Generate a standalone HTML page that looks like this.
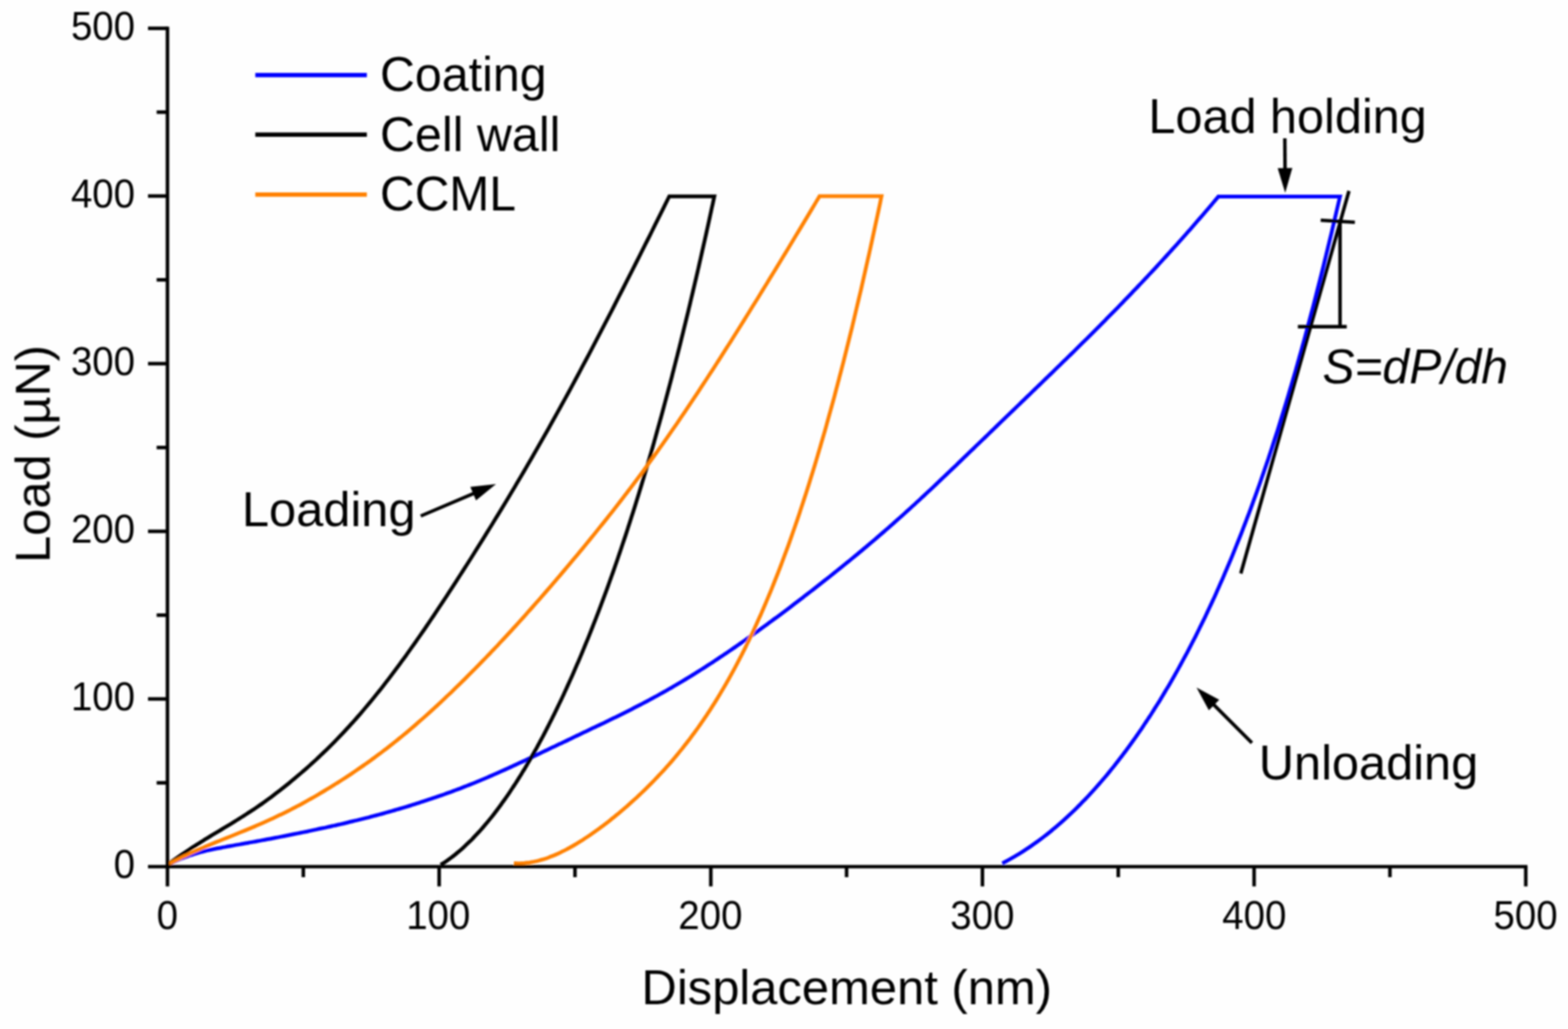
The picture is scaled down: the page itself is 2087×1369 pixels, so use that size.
<!DOCTYPE html>
<html lang="en"><head><meta charset="utf-8"><title>Load-displacement curves</title>
<style>
html,body{margin:0;padding:0;background:#fefefe;}
body{width:2087px;height:1369px;overflow:hidden;}
svg{display:block;}
text{font-family:"Liberation Sans",sans-serif;fill:#000;font-kerning:none;}
.tk{font-size:53.6px;}
.lb{font-size:65.5px;}
.ax{stroke:#000;stroke-width:4.7;fill:none;stroke-linecap:butt;}
.cv{fill:none;stroke-width:5.0;stroke-linejoin:miter;stroke-miterlimit:3;stroke-linecap:butt;}
.th{stroke:#000;stroke-width:4.6;fill:none;}
</style></head><body>
<svg width="2087" height="1369" viewBox="0 0 2087 1369">
<defs><filter id="soft" x="0" y="0" width="2087" height="1369" filterUnits="userSpaceOnUse"><feGaussianBlur stdDeviation="0.90"/></filter></defs>
<rect x="0" y="0" width="2087" height="1369" fill="#fefefe"/>
<g filter="url(#soft)">
<path class="cv" stroke="#0000ff" d="M222.9 1150.5C223.9 1150.0 226.9 1148.5 228.9 1147.6C230.9 1146.7 232.9 1145.9 234.9 1145.0C236.9 1144.1 238.9 1143.2 240.9 1142.4C242.9 1141.6 244.9 1141.0 246.9 1140.2C248.9 1139.5 250.9 1138.7 252.9 1138.0C254.9 1137.3 256.9 1136.8 258.9 1136.2C260.9 1135.5 262.9 1134.9 264.9 1134.3C266.9 1133.7 268.9 1133.3 270.9 1132.8C272.9 1132.3 274.9 1131.7 276.9 1131.3C278.9 1130.8 280.9 1130.4 282.9 1130.0C284.9 1129.6 286.9 1129.2 288.9 1128.8C290.9 1128.4 292.9 1128.0 294.9 1127.7C296.9 1127.3 298.9 1127.0 300.9 1126.6C302.9 1126.2 304.9 1125.9 306.9 1125.5C308.9 1125.2 310.9 1124.8 312.9 1124.4C314.9 1124.1 316.9 1123.7 318.9 1123.4C320.9 1123.0 322.9 1122.6 324.9 1122.3C326.9 1121.9 328.9 1121.6 330.9 1121.2C332.9 1120.8 334.9 1120.5 336.9 1120.1C338.9 1119.8 340.9 1119.4 342.9 1119.0C344.9 1118.7 346.9 1118.3 348.9 1117.9C350.9 1117.6 352.9 1117.2 354.9 1116.8C356.9 1116.4 358.9 1116.1 360.9 1115.7C362.9 1115.3 364.9 1114.9 366.9 1114.5C368.9 1114.2 370.9 1113.8 372.9 1113.4C374.9 1113.0 376.9 1112.6 378.9 1112.2C380.9 1111.8 382.9 1111.4 384.9 1111.0C386.9 1110.6 388.9 1110.2 390.9 1109.8C392.9 1109.4 394.9 1109.0 396.9 1108.6C398.9 1108.2 400.9 1107.8 402.9 1107.4C404.9 1107.0 406.9 1106.6 408.9 1106.2C410.9 1105.7 412.9 1105.3 414.9 1104.9C416.9 1104.5 418.9 1104.1 420.9 1103.6C422.9 1103.2 424.9 1102.8 426.9 1102.3C428.9 1101.9 430.9 1101.5 432.9 1101.1C434.9 1100.6 436.9 1100.2 438.9 1099.7C440.9 1099.3 442.9 1098.8 444.9 1098.4C446.9 1097.9 448.9 1097.5 450.9 1097.0C452.9 1096.6 454.9 1096.1 456.9 1095.7C458.9 1095.2 460.9 1094.7 462.9 1094.2C464.9 1093.8 466.9 1093.3 468.9 1092.8C470.9 1092.3 472.9 1091.8 474.9 1091.4C476.9 1090.9 478.9 1090.4 480.9 1089.9C482.9 1089.4 484.9 1088.9 486.9 1088.4C488.9 1087.9 490.9 1087.4 492.9 1086.8C494.9 1086.3 496.9 1085.8 498.9 1085.2C500.9 1084.7 502.9 1084.2 504.9 1083.7C506.9 1083.1 508.9 1082.5 510.9 1082.0C512.9 1081.4 514.9 1080.9 516.9 1080.3C518.9 1079.8 520.9 1079.2 522.9 1078.6C524.9 1078.0 526.9 1077.5 528.9 1076.9C530.9 1076.3 532.9 1075.7 534.9 1075.1C536.9 1074.5 538.9 1073.9 540.9 1073.3C542.9 1072.7 544.9 1072.1 546.9 1071.5C548.9 1070.8 550.9 1070.2 552.9 1069.6C554.9 1069.0 556.9 1068.3 558.9 1067.7C560.9 1067.0 562.9 1066.4 564.9 1065.7C566.9 1065.1 568.9 1064.4 570.9 1063.7C572.9 1063.1 574.9 1062.4 576.9 1061.7C578.9 1061.1 580.9 1060.4 582.9 1059.7C584.9 1059.0 586.9 1058.3 588.9 1057.6C590.9 1056.9 592.9 1056.1 594.9 1055.4C596.9 1054.7 598.9 1054.0 600.9 1053.3C602.9 1052.5 604.9 1051.8 606.9 1051.0C608.9 1050.3 610.9 1049.5 612.9 1048.8C614.9 1048.0 616.9 1047.2 618.9 1046.4C620.9 1045.6 622.9 1044.9 624.9 1044.1C626.9 1043.3 628.9 1042.5 630.9 1041.7C632.9 1040.8 634.9 1040.1 636.9 1039.2C638.9 1038.4 640.9 1037.5 642.9 1036.7C644.9 1035.9 646.9 1035.0 648.9 1034.2C650.9 1033.3 652.9 1032.4 654.9 1031.6C656.9 1030.7 658.9 1029.9 660.9 1029.0C662.9 1028.1 664.9 1027.2 666.9 1026.3C668.9 1025.4 670.9 1024.5 672.9 1023.6C674.9 1022.7 676.9 1021.8 678.9 1020.9C680.9 1020.0 682.9 1019.1 684.9 1018.1C686.9 1017.2 688.9 1016.3 690.9 1015.3C692.9 1014.4 694.9 1013.5 696.9 1012.6C698.9 1011.6 700.9 1010.7 702.9 1009.7C704.9 1008.8 706.9 1007.9 708.9 1006.9C710.9 1006.0 712.9 1005.0 714.9 1004.1C716.9 1003.1 718.9 1002.2 720.9 1001.2C722.9 1000.3 724.9 999.3 726.9 998.4C728.9 997.4 730.9 996.5 732.9 995.5C734.9 994.6 736.9 993.6 738.9 992.7C740.9 991.7 742.9 990.8 744.9 989.8C746.9 988.9 748.9 987.9 750.9 987.0C752.9 986.0 754.9 985.0 756.9 984.1C758.9 983.1 760.9 982.2 762.9 981.2C764.9 980.3 766.9 979.3 768.9 978.4C770.9 977.4 772.9 976.5 774.9 975.5C776.9 974.6 778.9 973.6 780.9 972.7C782.9 971.7 784.9 970.8 786.9 969.8C788.9 968.8 790.9 967.9 792.9 966.9C794.9 966.0 796.9 965.0 798.9 964.1C800.9 963.1 802.9 962.1 804.9 961.2C806.9 960.2 808.9 959.2 810.9 958.3C812.9 957.3 814.9 956.3 816.9 955.3C818.9 954.4 820.9 953.4 822.9 952.4C824.9 951.4 826.9 950.4 828.9 949.4C830.9 948.4 832.9 947.4 834.9 946.4C836.9 945.4 838.9 944.4 840.9 943.4C842.9 942.4 844.9 941.4 846.9 940.3C848.9 939.3 850.9 938.3 852.9 937.2C854.9 936.2 856.9 935.1 858.9 934.1C860.9 933.0 862.9 932.0 864.9 930.9C866.9 929.8 868.9 928.7 870.9 927.6C872.9 926.6 874.9 925.5 876.9 924.4C878.9 923.3 880.9 922.1 882.9 921.0C884.9 919.9 886.9 918.8 888.9 917.6C890.9 916.5 892.9 915.3 894.9 914.2C896.9 913.0 898.9 911.9 900.9 910.7C902.9 909.5 904.9 908.3 906.9 907.1C908.9 905.9 910.9 904.7 912.9 903.5C914.9 902.3 916.9 901.1 918.9 899.8C920.9 898.6 922.9 897.4 924.9 896.2C926.9 894.9 928.9 893.6 930.9 892.4C932.9 891.1 934.9 889.9 936.9 888.6C938.9 887.3 940.9 886.0 942.9 884.7C944.9 883.4 946.9 882.1 948.9 880.8C950.9 879.5 952.9 878.1 954.9 876.8C956.9 875.5 958.9 874.2 960.9 872.8C962.9 871.5 964.9 870.1 966.9 868.8C968.9 867.4 970.9 866.1 972.9 864.7C974.9 863.3 976.9 862.0 978.9 860.6C980.9 859.2 982.9 857.8 984.9 856.4C986.9 855.0 988.9 853.6 990.9 852.2C992.9 850.8 994.9 849.4 996.9 848.0C998.9 846.6 1000.9 845.1 1002.9 843.7C1004.9 842.3 1006.9 840.8 1008.9 839.4C1010.9 838.0 1012.9 836.5 1014.9 835.0C1016.9 833.6 1018.9 832.2 1020.9 830.7C1022.9 829.2 1024.9 827.7 1026.9 826.3C1028.9 824.8 1030.9 823.3 1032.9 821.9C1034.9 820.4 1036.9 818.9 1038.9 817.4C1040.9 815.9 1042.9 814.4 1044.9 812.9C1046.9 811.4 1048.9 809.9 1050.9 808.4C1052.9 806.9 1054.9 805.4 1056.9 803.8C1058.9 802.3 1060.9 800.8 1062.9 799.3C1064.9 797.7 1066.9 796.2 1068.9 794.7C1070.9 793.1 1072.9 791.6 1074.9 790.0C1076.9 788.5 1078.9 787.0 1080.9 785.4C1082.9 783.9 1084.9 782.3 1086.9 780.7C1088.9 779.2 1090.9 777.6 1092.9 776.0C1094.9 774.5 1096.9 772.9 1098.9 771.3C1100.9 769.7 1102.9 768.2 1104.9 766.6C1106.9 765.0 1108.9 763.4 1110.9 761.8C1112.9 760.2 1114.9 758.6 1116.9 757.0C1118.9 755.4 1120.9 753.8 1122.9 752.1C1124.9 750.5 1126.9 748.9 1128.9 747.3C1130.9 745.7 1132.9 744.0 1134.9 742.4C1136.9 740.7 1138.9 739.1 1140.9 737.5C1142.9 735.8 1144.9 734.1 1146.9 732.5C1148.9 730.8 1150.9 729.1 1152.9 727.5C1154.9 725.8 1156.9 724.1 1158.9 722.4C1160.9 720.7 1162.9 719.0 1164.9 717.3C1166.9 715.6 1168.9 713.9 1170.9 712.2C1172.9 710.4 1174.9 708.7 1176.9 707.0C1178.9 705.3 1180.9 703.5 1182.9 701.8C1184.9 700.0 1186.9 698.3 1188.9 696.5C1190.9 694.8 1192.9 693.0 1194.9 691.2C1196.9 689.4 1198.9 687.6 1200.9 685.8C1202.9 684.1 1204.9 682.2 1206.9 680.4C1208.9 678.6 1210.9 676.8 1212.9 675.0C1214.9 673.2 1216.9 671.3 1218.9 669.5C1220.9 667.7 1222.9 665.8 1224.9 664.0C1226.9 662.1 1228.9 660.3 1230.9 658.4C1232.9 656.6 1234.9 654.7 1236.9 652.8C1238.9 651.0 1240.9 649.1 1242.9 647.2C1244.9 645.3 1246.9 643.4 1248.9 641.5C1250.9 639.6 1252.9 637.7 1254.9 635.8C1256.9 633.9 1258.9 632.0 1260.9 630.1C1262.9 628.2 1264.9 626.3 1266.9 624.4C1268.9 622.5 1270.9 620.6 1272.9 618.7C1274.9 616.7 1276.9 614.8 1278.9 612.9C1280.9 611.0 1282.9 609.1 1284.9 607.1C1286.9 605.2 1288.9 603.3 1290.9 601.3C1292.9 599.4 1294.9 597.5 1296.9 595.6C1298.9 593.6 1300.9 591.7 1302.9 589.8C1304.9 587.8 1306.9 585.9 1308.9 584.0C1310.9 582.1 1312.9 580.1 1314.9 578.2C1316.9 576.3 1318.9 574.3 1320.9 572.4C1322.9 570.5 1324.9 568.5 1326.9 566.6C1328.9 564.7 1330.9 562.8 1332.9 560.8C1334.9 558.9 1336.9 557.0 1338.9 555.0C1340.9 553.1 1342.9 551.2 1344.9 549.2C1346.9 547.3 1348.9 545.4 1350.9 543.5C1352.9 541.5 1354.9 539.6 1356.9 537.7C1358.9 535.7 1360.9 533.8 1362.9 531.9C1364.9 529.9 1366.9 528.0 1368.9 526.1C1370.9 524.2 1372.9 522.2 1374.9 520.3C1376.9 518.4 1378.9 516.4 1380.9 514.5C1382.9 512.6 1384.9 510.6 1386.9 508.7C1388.9 506.8 1390.9 504.8 1392.9 502.9C1394.9 501.0 1396.9 499.0 1398.9 497.1C1400.9 495.2 1402.9 493.2 1404.9 491.3C1406.9 489.3 1408.9 487.4 1410.9 485.5C1412.9 483.5 1414.9 481.6 1416.9 479.6C1418.9 477.7 1420.9 475.7 1422.9 473.8C1424.9 471.8 1426.9 469.9 1428.9 467.9C1430.9 465.9 1432.9 464.0 1434.9 462.0C1436.9 460.0 1438.9 458.1 1440.9 456.1C1442.9 454.1 1444.9 452.1 1446.9 450.2C1448.9 448.2 1450.9 446.2 1452.9 444.2C1454.9 442.2 1456.9 440.2 1458.9 438.2C1460.9 436.2 1462.9 434.2 1464.9 432.2C1466.9 430.2 1468.9 428.2 1470.9 426.2C1472.9 424.1 1474.9 422.1 1476.9 420.1C1478.9 418.1 1480.9 416.0 1482.9 414.0C1484.9 411.9 1486.9 409.9 1488.9 407.9C1490.9 405.8 1492.9 403.7 1494.9 401.7C1496.9 399.6 1498.9 397.6 1500.9 395.5C1502.9 393.4 1504.9 391.3 1506.9 389.2C1508.9 387.1 1510.9 385.1 1512.9 383.0C1514.9 380.9 1516.9 378.7 1518.9 376.6C1520.9 374.5 1522.9 372.4 1524.9 370.3C1526.9 368.2 1528.9 366.0 1530.9 363.9C1532.9 361.7 1534.9 359.6 1536.9 357.5C1538.9 355.3 1540.9 353.1 1542.9 350.9C1544.9 348.8 1546.9 346.6 1548.9 344.4C1550.9 342.3 1552.9 340.0 1554.9 337.8C1556.9 335.6 1558.9 333.5 1560.9 331.2C1562.9 329.0 1564.9 326.8 1566.9 324.6C1568.9 322.3 1570.9 320.1 1572.9 317.9C1574.9 315.6 1576.9 313.3 1578.9 311.1C1580.9 308.8 1582.9 306.6 1584.9 304.3C1586.9 302.0 1588.9 299.7 1590.9 297.4C1592.9 295.1 1594.9 292.8 1596.9 290.5C1598.9 288.2 1600.9 285.9 1602.9 283.6C1604.9 281.2 1606.9 278.9 1608.9 276.6C1610.9 274.2 1612.9 271.9 1614.9 269.5C1616.9 267.2 1619.8 263.8 1620.9 262.4C1622.0 261.1 1621.6 261.7 1621.7 261.5L1783.5 261.5L1783.5 261.5C1783.2 262.6 1782.6 265.5 1782.0 268.0C1781.4 270.5 1780.7 273.7 1780.0 276.5C1779.3 279.4 1778.7 282.2 1778.0 285.1C1777.3 288.0 1776.7 290.8 1776.0 293.7C1775.3 296.5 1774.7 299.4 1774.0 302.2C1773.3 305.1 1772.7 308.0 1772.0 310.8C1771.3 313.6 1770.7 316.3 1770.0 319.0C1769.3 321.7 1768.7 324.5 1768.0 327.2C1767.3 329.9 1766.7 332.7 1766.0 335.4C1765.3 338.1 1764.7 340.9 1764.0 343.6C1763.3 346.4 1762.7 349.1 1762.0 351.8C1761.3 354.6 1760.7 357.3 1760.0 360.0C1759.3 362.7 1758.7 365.2 1758.0 367.9C1757.3 370.5 1756.7 373.1 1756.0 375.7C1755.3 378.3 1754.7 380.9 1754.0 383.5C1753.3 386.2 1752.7 388.8 1752.0 391.4C1751.3 394.0 1750.7 396.6 1750.0 399.2C1749.3 401.8 1748.7 404.5 1748.0 407.1C1747.3 409.6 1746.7 412.0 1746.0 414.5C1745.3 417.0 1744.7 419.5 1744.0 422.0C1743.3 424.5 1742.7 427.0 1742.0 429.5C1741.3 432.0 1740.7 434.5 1740.0 437.0C1739.3 439.5 1738.7 442.0 1738.0 444.4C1737.3 446.9 1736.7 449.5 1736.0 451.9C1735.3 454.4 1734.7 456.7 1734.0 459.0C1733.3 461.4 1732.7 463.8 1732.0 466.2C1731.3 468.5 1730.7 470.9 1730.0 473.3C1729.3 475.7 1728.7 478.0 1728.0 480.4C1727.3 482.8 1726.7 485.2 1726.0 487.5C1725.3 489.9 1724.7 492.3 1724.0 494.7C1723.3 497.0 1722.7 499.2 1722.0 501.4C1721.3 503.7 1720.7 506.0 1720.0 508.2C1719.3 510.5 1718.7 512.7 1718.0 515.0C1717.3 517.2 1716.7 519.5 1716.0 521.8C1715.3 524.0 1714.7 526.3 1714.0 528.5C1713.3 530.8 1712.8 532.6 1712.0 535.3C1711.2 538.1 1710.0 541.8 1709.0 545.0C1708.0 548.2 1707.0 551.4 1706.0 554.6C1705.0 557.9 1704.0 561.1 1703.0 564.3C1702.0 567.5 1701.0 570.8 1700.0 574.0C1699.0 577.1 1698.0 580.1 1697.0 583.1C1696.0 586.2 1695.0 589.3 1694.0 592.3C1693.0 595.4 1692.0 598.4 1691.0 601.5C1690.0 604.5 1689.0 607.7 1688.0 610.7C1687.0 613.6 1686.0 616.5 1685.0 619.4C1684.0 622.3 1683.0 625.2 1682.0 628.1C1681.0 631.0 1680.0 633.9 1679.0 636.8C1678.0 639.7 1677.0 642.7 1676.0 645.5C1675.0 648.3 1674.0 651.0 1673.0 653.8C1672.0 656.5 1671.0 659.3 1670.0 662.1C1669.0 664.8 1668.0 667.6 1667.0 670.3C1666.0 673.1 1665.0 675.9 1664.0 678.6C1663.0 681.3 1662.0 683.8 1661.0 686.5C1660.0 689.1 1659.0 691.7 1658.0 694.3C1657.0 696.9 1656.0 699.6 1655.0 702.2C1654.0 704.8 1653.0 707.5 1652.0 710.0C1651.0 712.6 1650.0 715.0 1649.0 717.5C1648.0 720.0 1647.0 722.5 1646.0 724.9C1645.0 727.4 1644.0 729.9 1643.0 732.4C1642.0 734.9 1641.0 737.4 1640.0 739.9C1639.0 742.3 1638.0 744.6 1637.0 747.0C1636.0 749.3 1635.0 751.7 1634.0 754.0C1633.0 756.4 1632.0 758.8 1631.0 761.1C1630.0 763.5 1629.0 765.9 1628.0 768.2C1627.0 770.5 1626.0 772.7 1625.0 774.9C1624.0 777.2 1623.0 779.4 1622.0 781.7C1621.0 783.9 1620.0 786.2 1619.0 788.4C1618.0 790.7 1617.0 793.0 1616.0 795.2C1615.0 797.3 1614.0 799.4 1613.0 801.6C1612.0 803.7 1611.0 805.8 1610.0 808.0C1609.0 810.1 1608.0 812.2 1607.0 814.4C1606.0 816.5 1605.2 818.4 1604.0 820.8C1602.8 823.2 1601.3 826.2 1600.0 828.9C1598.7 831.6 1597.3 834.3 1596.0 837.0C1594.7 839.7 1593.3 842.5 1592.0 845.1C1590.7 847.8 1589.3 850.3 1588.0 852.9C1586.7 855.4 1585.3 858.0 1584.0 860.6C1582.7 863.2 1581.3 865.8 1580.0 868.3C1578.7 870.8 1577.3 873.2 1576.0 875.7C1574.7 878.1 1573.3 880.6 1572.0 883.0C1570.7 885.5 1569.3 888.0 1568.0 890.4C1566.7 892.8 1565.3 895.1 1564.0 897.4C1562.7 899.7 1561.3 902.1 1560.0 904.4C1558.7 906.7 1557.3 909.1 1556.0 911.4C1554.7 913.7 1553.3 915.9 1552.0 918.1C1550.7 920.3 1549.3 922.5 1548.0 924.7C1546.7 927.0 1545.3 929.2 1544.0 931.4C1542.7 933.6 1541.3 935.6 1540.0 937.8C1538.7 939.9 1537.3 942.0 1536.0 944.1C1534.7 946.2 1533.3 948.4 1532.0 950.5C1530.7 952.5 1529.3 954.5 1528.0 956.5C1526.7 958.5 1525.3 960.5 1524.0 962.5C1522.7 964.6 1521.3 966.6 1520.0 968.6C1518.7 970.6 1517.3 972.4 1516.0 974.3C1514.7 976.3 1513.3 978.2 1512.0 980.1C1510.7 982.0 1509.5 983.7 1508.0 985.8C1506.5 987.9 1504.7 990.4 1503.0 992.7C1501.3 994.9 1499.7 997.2 1498.0 999.5C1496.3 1001.7 1494.7 1003.9 1493.0 1006.1C1491.3 1008.3 1489.7 1010.4 1488.0 1012.6C1486.3 1014.7 1484.7 1016.9 1483.0 1019.0C1481.3 1021.1 1479.7 1023.1 1478.0 1025.1C1476.3 1027.2 1474.7 1029.3 1473.0 1031.3C1471.3 1033.3 1469.7 1035.2 1468.0 1037.2C1466.3 1039.1 1464.7 1041.0 1463.0 1043.0C1461.3 1044.9 1459.7 1046.8 1458.0 1048.6C1456.3 1050.5 1454.7 1052.3 1453.0 1054.1C1451.3 1056.0 1449.7 1057.8 1448.0 1059.6C1446.3 1061.4 1444.7 1063.0 1443.0 1064.8C1441.3 1066.5 1439.7 1068.2 1438.0 1069.9C1436.3 1071.6 1434.8 1073.1 1433.0 1074.9C1431.2 1076.7 1429.0 1078.8 1427.0 1080.7C1425.0 1082.6 1423.0 1084.5 1421.0 1086.4C1419.0 1088.2 1417.0 1090.0 1415.0 1091.8C1413.0 1093.6 1411.0 1095.4 1409.0 1097.1C1407.0 1098.9 1405.0 1100.6 1403.0 1102.2C1401.0 1103.9 1399.0 1105.5 1397.0 1107.2C1395.0 1108.8 1393.0 1110.4 1391.0 1111.9C1389.0 1113.5 1387.0 1115.0 1385.0 1116.5C1383.0 1118.0 1381.0 1119.5 1379.0 1120.9C1377.0 1122.3 1375.0 1123.8 1373.0 1125.1C1371.0 1126.5 1369.0 1127.9 1367.0 1129.2C1365.0 1130.5 1363.0 1131.8 1361.0 1133.1C1359.0 1134.4 1357.2 1135.5 1355.0 1136.8C1352.8 1138.1 1350.3 1139.6 1348.0 1140.9C1345.7 1142.3 1343.3 1143.6 1341.0 1144.9C1338.7 1146.2 1335.2 1147.9 1334.0 1148.5"/>
<path class="cv" stroke="#000000" d="M222.9 1150.5C223.9 1149.8 226.9 1147.5 228.9 1146.1C230.9 1144.6 232.9 1143.2 234.9 1141.8C236.9 1140.4 238.9 1139.0 240.9 1137.6C242.9 1136.2 244.9 1134.9 246.9 1133.6C248.9 1132.2 250.9 1130.8 252.9 1129.5C254.9 1128.2 256.9 1126.9 258.9 1125.7C260.9 1124.4 262.9 1123.0 264.9 1121.8C266.9 1120.5 268.9 1119.3 270.9 1118.1C272.9 1116.8 274.9 1115.6 276.9 1114.3C278.9 1113.1 280.9 1111.9 282.9 1110.7C284.9 1109.5 286.9 1108.3 288.9 1107.1C290.9 1105.9 292.9 1104.7 294.9 1103.5C296.9 1102.3 298.9 1101.1 300.9 1099.9C302.9 1098.7 304.9 1097.5 306.9 1096.3C308.9 1095.1 310.9 1093.9 312.9 1092.6C314.9 1091.4 316.9 1090.1 318.9 1088.9C320.9 1087.6 322.9 1086.4 324.9 1085.1C326.9 1083.9 328.9 1082.5 330.9 1081.2C332.9 1079.9 334.9 1078.7 336.9 1077.3C338.9 1076.0 340.9 1074.6 342.9 1073.2C344.9 1071.8 346.9 1070.5 348.9 1069.1C350.9 1067.7 352.9 1066.2 354.9 1064.7C356.9 1063.3 358.9 1061.9 360.9 1060.4C362.9 1058.9 364.9 1057.4 366.9 1055.8C368.9 1054.3 370.9 1052.8 372.9 1051.3C374.9 1049.7 376.9 1048.1 378.9 1046.5C380.9 1044.9 382.9 1043.3 384.9 1041.7C386.9 1040.1 388.9 1038.4 390.9 1036.7C392.9 1035.1 394.9 1033.4 396.9 1031.7C398.9 1030.0 400.9 1028.3 402.9 1026.5C404.9 1024.8 406.9 1023.1 408.9 1021.3C410.9 1019.6 412.9 1017.7 414.9 1015.9C416.9 1014.1 418.9 1012.3 420.9 1010.5C422.9 1008.6 424.9 1006.7 426.9 1004.8C428.9 1002.9 430.9 1001.1 432.9 999.1C434.9 997.2 436.9 995.2 438.9 993.2C440.9 991.2 442.9 989.3 444.9 987.3C446.9 985.2 448.9 983.1 450.9 981.0C452.9 979.0 454.9 976.9 456.9 974.8C458.9 972.7 460.9 970.5 462.9 968.3C464.9 966.1 466.9 964.0 468.9 961.8C470.9 959.6 472.9 957.2 474.9 955.0C476.9 952.7 478.9 950.5 480.9 948.1C482.9 945.8 484.9 943.4 486.9 941.0C488.9 938.7 490.9 936.3 492.9 933.9C494.9 931.5 496.9 929.0 498.9 926.5C500.9 924.0 502.9 921.6 504.9 919.1C506.9 916.6 508.9 914.0 510.9 911.4C512.9 908.8 514.9 906.3 516.9 903.7C518.9 901.1 520.9 898.4 522.9 895.8C524.9 893.1 526.9 890.5 528.9 887.8C530.9 885.1 532.9 882.3 534.9 879.6C536.9 876.8 538.9 874.1 540.9 871.4C542.9 868.6 544.9 865.7 546.9 862.9C548.9 860.1 550.9 857.3 552.9 854.5C554.9 851.6 556.9 848.7 558.9 845.8C560.9 842.9 562.9 840.1 564.9 837.2C566.9 834.2 568.9 831.3 570.9 828.3C572.9 825.4 574.9 822.4 576.9 819.5C578.9 816.5 580.9 813.5 582.9 810.4C584.9 807.4 586.9 804.5 588.9 801.4C590.9 798.4 592.9 795.3 594.9 792.3C596.9 789.2 598.9 786.2 600.9 783.1C602.9 780.0 604.9 776.9 606.9 773.8C608.9 770.7 610.9 767.6 612.9 764.5C614.9 761.4 616.9 758.3 618.9 755.1C620.9 752.0 622.9 748.9 624.9 745.7C626.9 742.6 628.9 739.4 630.9 736.2C632.9 733.0 634.9 729.9 636.9 726.7C638.9 723.5 640.9 720.3 642.9 717.1C644.9 713.9 646.9 710.7 648.9 707.4C650.9 704.2 652.9 700.9 654.9 697.7C656.9 694.4 658.9 691.2 660.9 687.9C662.9 684.7 664.9 681.4 666.9 678.1C668.9 674.8 670.9 671.5 672.9 668.2C674.9 664.9 676.9 661.5 678.9 658.2C680.9 654.8 682.9 651.5 684.9 648.2C686.9 644.8 688.9 641.4 690.9 638.0C692.9 634.6 694.9 631.3 696.9 627.9C698.9 624.4 700.9 621.0 702.9 617.5C704.9 614.1 706.9 610.7 708.9 607.2C710.9 603.8 712.9 600.3 714.9 596.8C716.9 593.3 718.9 589.8 720.9 586.3C722.9 582.8 724.9 579.2 726.9 575.7C728.9 572.2 730.9 568.6 732.9 565.1C734.9 561.5 736.9 557.9 738.9 554.3C740.9 550.7 742.9 547.1 744.9 543.5C746.9 539.9 748.9 536.2 750.9 532.6C752.9 528.9 754.9 525.3 756.9 521.7C758.9 518.0 760.9 514.3 762.9 510.6C764.9 506.9 766.9 503.2 768.9 499.5C770.9 495.7 772.9 492.0 774.9 488.2C776.9 484.5 778.9 480.8 780.9 477.0C782.9 473.2 784.9 469.4 786.9 465.6C788.9 461.8 790.9 458.0 792.9 454.2C794.9 450.4 796.9 446.5 798.9 442.7C800.9 438.9 802.9 435.1 804.9 431.2C806.9 427.3 808.9 423.5 810.9 419.6C812.9 415.7 814.9 411.9 816.9 408.0C818.9 404.1 820.9 400.2 822.9 396.2C824.9 392.3 826.9 388.4 828.9 384.5C830.9 380.6 832.9 376.7 834.9 372.7C836.9 368.8 838.9 364.9 840.9 360.9C842.9 357.0 844.9 353.0 846.9 349.0C848.9 345.1 850.9 341.1 852.9 337.2C854.9 333.2 856.9 329.2 858.9 325.2C860.9 321.2 862.9 317.3 864.9 313.3C866.9 309.3 868.9 305.2 870.9 301.2C872.9 297.2 874.9 293.2 876.9 289.2C878.9 285.2 880.9 281.2 882.9 277.1C884.9 273.1 887.6 267.7 888.9 265.0C890.2 262.4 890.5 261.8 890.8 261.2L950.8 261.2L950.8 261.2C950.6 262.2 950.0 264.7 949.5 267.2C949.0 269.7 948.2 273.3 947.5 276.3C946.8 279.4 946.2 282.5 945.5 285.5C944.8 288.6 944.2 291.6 943.5 294.7C942.8 297.7 942.2 300.8 941.5 303.8C940.8 306.9 940.2 309.9 939.5 312.8C938.8 315.8 938.2 318.7 937.5 321.7C936.8 324.6 936.2 327.5 935.5 330.5C934.8 333.4 934.2 336.4 933.5 339.3C932.8 342.3 932.2 345.2 931.5 348.1C930.8 351.1 930.2 354.1 929.5 357.0C928.8 359.9 928.2 362.8 927.5 365.6C926.8 368.5 926.2 371.3 925.5 374.1C924.8 376.9 924.2 379.8 923.5 382.6C922.8 385.4 922.2 388.2 921.5 391.1C920.8 393.9 920.2 396.7 919.5 399.5C918.8 402.4 918.2 405.2 917.5 408.0C916.8 410.8 916.2 413.6 915.5 416.3C914.8 419.1 914.2 421.8 913.5 424.5C912.8 427.2 912.2 429.9 911.5 432.6C910.8 435.3 910.2 438.1 909.5 440.8C908.8 443.5 908.2 446.2 907.5 448.9C906.8 451.6 906.2 454.4 905.5 457.0C904.8 459.7 904.2 462.4 903.5 465.0C902.8 467.7 902.2 470.2 901.5 472.8C900.8 475.4 900.2 478.0 899.5 480.6C898.8 483.2 898.2 485.8 897.5 488.4C896.8 491.0 896.2 493.6 895.5 496.2C894.8 498.8 894.2 501.5 893.5 504.0C892.8 506.6 892.2 509.2 891.5 511.7C890.8 514.2 890.2 516.7 889.5 519.1C888.8 521.6 888.2 524.1 887.5 526.6C886.8 529.1 886.2 531.6 885.5 534.1C884.8 536.6 884.2 539.1 883.5 541.5C882.8 544.0 882.2 546.6 881.5 549.0C880.8 551.5 880.2 553.9 879.5 556.3C878.8 558.7 878.2 561.1 877.5 563.5C876.8 565.8 876.2 568.2 875.5 570.6C874.8 573.0 874.2 575.4 873.5 577.7C872.8 580.1 872.2 582.5 871.5 584.9C870.8 587.3 870.2 589.7 869.5 592.0C868.8 594.4 868.2 596.7 867.5 599.0C866.8 601.3 866.2 603.5 865.5 605.8C864.8 608.1 864.2 610.4 863.5 612.6C862.8 614.9 862.2 617.2 861.5 619.4C860.8 621.7 860.2 624.0 859.5 626.3C858.8 628.5 858.3 630.3 857.5 633.1C856.7 635.9 855.5 639.7 854.5 643.0C853.5 646.3 852.5 649.5 851.5 652.8C850.5 656.0 849.5 659.3 848.5 662.5C847.5 665.8 846.5 669.1 845.5 672.3C844.5 675.5 843.5 678.6 842.5 681.7C841.5 684.8 840.5 687.9 839.5 691.0C838.5 694.1 837.5 697.2 836.5 700.3C835.5 703.4 834.5 706.6 833.5 709.6C832.5 712.7 831.5 715.7 830.5 718.6C829.5 721.6 828.5 724.5 827.5 727.5C826.5 730.5 825.5 733.4 824.5 736.4C823.5 739.3 822.5 742.3 821.5 745.2C820.5 748.1 819.5 751.0 818.5 753.8C817.5 756.7 816.5 759.4 815.5 762.3C814.5 765.1 813.5 767.9 812.5 770.7C811.5 773.5 810.5 776.4 809.5 779.1C808.5 781.9 807.5 784.6 806.5 787.3C805.5 790.0 804.5 792.7 803.5 795.4C802.5 798.0 801.5 800.7 800.5 803.4C799.5 806.1 798.5 808.8 797.5 811.4C796.5 814.1 795.5 816.6 794.5 819.2C793.5 821.8 792.5 824.3 791.5 826.9C790.5 829.4 789.5 832.0 788.5 834.5C787.5 837.1 786.5 839.7 785.5 842.2C784.5 844.7 783.5 847.1 782.5 849.6C781.5 852.0 780.5 854.4 779.5 856.8C778.5 859.3 777.5 861.7 776.5 864.1C775.5 866.5 774.5 869.0 773.5 871.4C772.5 873.8 771.5 876.1 770.5 878.4C769.5 880.8 768.5 883.0 767.5 885.3C766.5 887.6 765.5 889.9 764.5 892.2C763.5 894.6 762.5 896.9 761.5 899.2C760.5 901.4 759.5 903.6 758.5 905.8C757.5 908.0 756.5 910.2 755.5 912.4C754.5 914.6 753.5 916.8 752.5 919.0C751.5 921.1 750.5 923.4 749.5 925.5C748.5 927.7 747.7 929.4 746.5 931.8C745.3 934.3 743.8 937.4 742.5 940.1C741.2 942.9 739.8 945.7 738.5 948.4C737.2 951.1 735.8 953.8 734.5 956.5C733.2 959.1 731.8 961.7 730.5 964.3C729.2 966.9 727.8 969.6 726.5 972.2C725.2 974.7 723.8 977.3 722.5 979.8C721.2 982.3 719.8 984.7 718.5 987.2C717.2 989.6 715.8 992.1 714.5 994.6C713.2 997.0 711.8 999.4 710.5 1001.7C709.2 1004.1 707.8 1006.4 706.5 1008.7C705.2 1011.0 703.8 1013.4 702.5 1015.6C701.2 1017.9 699.8 1020.2 698.5 1022.4C697.2 1024.6 695.8 1026.7 694.5 1028.9C693.2 1031.1 691.8 1033.3 690.5 1035.4C689.2 1037.5 687.8 1039.6 686.5 1041.7C685.2 1043.8 683.8 1045.7 682.5 1047.8C681.2 1049.8 680.0 1051.6 678.5 1053.8C677.0 1056.1 675.2 1058.7 673.5 1061.1C671.8 1063.5 670.2 1065.8 668.5 1068.1C666.8 1070.5 665.2 1072.8 663.5 1075.1C661.8 1077.3 660.2 1079.4 658.5 1081.6C656.8 1083.7 655.2 1086.0 653.5 1088.0C651.8 1090.1 650.2 1092.1 648.5 1094.1C646.8 1096.1 645.2 1098.1 643.5 1100.0C641.8 1101.9 640.2 1103.8 638.5 1105.7C636.8 1107.5 635.2 1109.3 633.5 1111.0C631.8 1112.8 630.3 1114.5 628.5 1116.4C626.7 1118.2 624.5 1120.2 622.5 1122.1C620.5 1124.1 618.5 1126.1 616.5 1127.9C614.5 1129.7 612.5 1131.3 610.5 1133.0C608.5 1134.6 606.5 1136.4 604.5 1138.0C602.5 1139.6 600.5 1140.9 598.5 1142.4C596.5 1143.9 594.5 1145.4 592.5 1146.8C590.5 1148.1 587.5 1149.9 586.5 1150.5"/>
<path class="cv" stroke="#ff8000" d="M222.9 1150.5C223.9 1150.0 226.9 1148.3 228.9 1147.3C230.9 1146.3 232.9 1145.3 234.9 1144.3C236.9 1143.3 238.9 1142.2 240.9 1141.2C242.9 1140.3 244.9 1139.3 246.9 1138.4C248.9 1137.4 250.9 1136.4 252.9 1135.5C254.9 1134.6 256.9 1133.7 258.9 1132.8C260.9 1131.9 262.9 1130.9 264.9 1130.1C266.9 1129.2 268.9 1128.3 270.9 1127.5C272.9 1126.6 274.9 1125.7 276.9 1124.9C278.9 1124.0 280.9 1123.2 282.9 1122.4C284.9 1121.6 286.9 1120.7 288.9 1119.9C290.9 1119.1 292.9 1118.3 294.9 1117.5C296.9 1116.7 298.9 1115.9 300.9 1115.1C302.9 1114.3 304.9 1113.5 306.9 1112.7C308.9 1111.9 310.9 1111.1 312.9 1110.3C314.9 1109.4 316.9 1108.6 318.9 1107.8C320.9 1107.0 322.9 1106.2 324.9 1105.4C326.9 1104.5 328.9 1103.7 330.9 1102.9C332.9 1102.0 334.9 1101.2 336.9 1100.4C338.9 1099.5 340.9 1098.7 342.9 1097.8C344.9 1096.9 346.9 1096.1 348.9 1095.2C350.9 1094.3 352.9 1093.4 354.9 1092.5C356.9 1091.6 358.9 1090.7 360.9 1089.8C362.9 1088.9 364.9 1087.9 366.9 1087.0C368.9 1086.0 370.9 1085.1 372.9 1084.1C374.9 1083.2 376.9 1082.2 378.9 1081.2C380.9 1080.2 382.9 1079.2 384.9 1078.2C386.9 1077.2 388.9 1076.1 390.9 1075.1C392.9 1074.0 394.9 1073.0 396.9 1071.9C398.9 1070.9 400.9 1069.8 402.9 1068.7C404.9 1067.6 406.9 1066.5 408.9 1065.4C410.9 1064.3 412.9 1063.1 414.9 1062.0C416.9 1060.9 418.9 1059.7 420.9 1058.6C422.9 1057.4 424.9 1056.2 426.9 1055.0C428.9 1053.9 430.9 1052.7 432.9 1051.5C434.9 1050.3 436.9 1049.0 438.9 1047.8C440.9 1046.6 442.9 1045.4 444.9 1044.1C446.9 1042.9 448.9 1041.6 450.9 1040.3C452.9 1039.1 454.9 1037.8 456.9 1036.5C458.9 1035.2 460.9 1033.9 462.9 1032.6C464.9 1031.3 466.9 1030.0 468.9 1028.6C470.9 1027.3 472.9 1025.9 474.9 1024.5C476.9 1023.2 478.9 1021.8 480.9 1020.4C482.9 1019.1 484.9 1017.6 486.9 1016.2C488.9 1014.8 490.9 1013.4 492.9 1012.0C494.9 1010.5 496.9 1009.0 498.9 1007.6C500.9 1006.1 502.9 1004.6 504.9 1003.1C506.9 1001.7 508.9 1000.1 510.9 998.6C512.9 997.1 514.9 995.6 516.9 994.0C518.9 992.4 520.9 990.8 522.9 989.3C524.9 987.7 526.9 986.1 528.9 984.5C530.9 982.9 532.9 981.2 534.9 979.6C536.9 978.0 538.9 976.3 540.9 974.7C542.9 973.0 544.9 971.3 546.9 969.6C548.9 967.9 550.9 966.2 552.9 964.5C554.9 962.8 556.9 961.0 558.9 959.2C560.9 957.5 562.9 955.8 564.9 954.0C566.9 952.2 568.9 950.4 570.9 948.6C572.9 946.8 574.9 945.0 576.9 943.2C578.9 941.3 580.9 939.5 582.9 937.6C584.9 935.7 586.9 933.9 588.9 932.0C590.9 930.2 592.9 928.2 594.9 926.3C596.9 924.4 598.9 922.6 600.9 920.7C602.9 918.7 604.9 916.8 606.9 914.8C608.9 912.9 610.9 911.0 612.9 909.0C614.9 907.0 616.9 905.0 618.9 903.1C620.9 901.1 622.9 899.1 624.9 897.1C626.9 895.1 628.9 893.1 630.9 891.1C632.9 889.0 634.9 887.0 636.9 885.0C638.9 883.0 640.9 880.9 642.9 878.8C644.9 876.8 646.9 874.7 648.9 872.6C650.9 870.6 652.9 868.4 654.9 866.3C656.9 864.2 658.9 862.2 660.9 860.1C662.9 857.9 664.9 855.8 666.9 853.6C668.9 851.5 670.9 849.4 672.9 847.2C674.9 845.1 676.9 842.9 678.9 840.7C680.9 838.5 682.9 836.4 684.9 834.2C686.9 832.0 688.9 829.8 690.9 827.6C692.9 825.4 694.9 823.2 696.9 821.0C698.9 818.7 700.9 816.5 702.9 814.2C704.9 812.0 706.9 809.8 708.9 807.5C710.9 805.3 712.9 803.0 714.9 800.7C716.9 798.4 718.9 796.2 720.9 793.9C722.9 791.6 724.9 789.3 726.9 787.0C728.9 784.7 730.9 782.4 732.9 780.1C734.9 777.7 736.9 775.4 738.9 773.1C740.9 770.7 742.9 768.4 744.9 766.1C746.9 763.7 748.9 761.3 750.9 759.0C752.9 756.6 754.9 754.3 756.9 751.9C758.9 749.5 760.9 747.1 762.9 744.7C764.9 742.3 766.9 740.0 768.9 737.6C770.9 735.2 772.9 732.7 774.9 730.3C776.9 727.9 778.9 725.5 780.9 723.0C782.9 720.6 784.9 718.1 786.9 715.7C788.9 713.2 790.9 710.8 792.9 708.3C794.9 705.8 796.9 703.3 798.9 700.8C800.9 698.4 802.9 695.9 804.9 693.4C806.9 690.9 808.9 688.3 810.9 685.8C812.9 683.3 814.9 680.8 816.9 678.2C818.9 675.7 820.9 673.1 822.9 670.5C824.9 667.9 826.9 665.4 828.9 662.8C830.9 660.2 832.9 657.5 834.9 654.9C836.9 652.3 838.9 649.7 840.9 647.0C842.9 644.4 844.9 641.7 846.9 639.0C848.9 636.3 850.9 633.7 852.9 631.0C854.9 628.3 856.9 625.5 858.9 622.8C860.9 620.1 862.9 617.4 864.9 614.6C866.9 611.9 868.9 609.1 870.9 606.3C872.9 603.5 874.9 600.8 876.9 597.9C878.9 595.1 880.9 592.3 882.9 589.4C884.9 586.6 886.9 583.8 888.9 580.9C890.9 578.0 892.9 575.1 894.9 572.2C896.9 569.3 898.9 566.5 900.9 563.6C902.9 560.6 904.9 557.7 906.9 554.7C908.9 551.8 910.9 548.9 912.9 545.9C914.9 542.9 916.9 539.9 918.9 536.9C920.9 533.9 922.9 531.0 924.9 527.9C926.9 524.9 928.9 521.9 930.9 518.8C932.9 515.8 934.9 512.8 936.9 509.7C938.9 506.7 940.9 503.6 942.9 500.5C944.9 497.4 946.9 494.4 948.9 491.3C950.9 488.2 952.9 485.1 954.9 482.0C956.9 478.9 958.9 475.8 960.9 472.6C962.9 469.5 964.9 466.3 966.9 463.2C968.9 460.1 970.9 456.9 972.9 453.8C974.9 450.6 976.9 447.4 978.9 444.2C980.9 441.1 982.9 437.9 984.9 434.7C986.9 431.5 988.9 428.3 990.9 425.1C992.9 421.9 994.9 418.7 996.9 415.5C998.9 412.3 1000.9 409.1 1002.9 405.8C1004.9 402.6 1006.9 399.4 1008.9 396.2C1010.9 392.9 1012.9 389.7 1014.9 386.4C1016.9 383.2 1018.9 379.9 1020.9 376.7C1022.9 373.4 1024.9 370.1 1026.9 366.9C1028.9 363.6 1030.9 360.4 1032.9 357.1C1034.9 353.8 1036.9 350.5 1038.9 347.2C1040.9 343.9 1042.9 340.7 1044.9 337.4C1046.9 334.1 1048.9 330.8 1050.9 327.5C1052.9 324.1 1054.9 320.9 1056.9 317.5C1058.9 314.2 1060.9 310.9 1062.9 307.6C1064.9 304.3 1066.9 300.9 1068.9 297.6C1070.9 294.3 1072.9 290.9 1074.9 287.6C1076.9 284.3 1078.9 280.9 1080.9 277.6C1082.9 274.3 1085.2 270.3 1086.9 267.5C1088.6 264.8 1090.2 262.1 1090.8 261.0L1173.3 261.0L1173.3 261.0C1173.1 262.0 1172.5 264.6 1172.0 267.3C1171.5 269.9 1170.7 273.8 1170.0 276.9C1169.3 280.1 1168.7 283.1 1168.0 286.2C1167.3 289.2 1166.7 292.3 1166.0 295.4C1165.3 298.5 1164.7 301.5 1164.0 304.6C1163.3 307.7 1162.7 310.8 1162.0 313.9C1161.3 316.9 1160.7 320.0 1160.0 323.1C1159.3 326.2 1158.7 329.3 1158.0 332.3C1157.3 335.3 1156.7 338.2 1156.0 341.1C1155.3 344.1 1154.7 347.0 1154.0 350.0C1153.3 352.9 1152.7 355.9 1152.0 358.8C1151.3 361.7 1150.7 364.7 1150.0 367.6C1149.3 370.6 1148.7 373.5 1148.0 376.5C1147.3 379.4 1146.7 382.4 1146.0 385.3C1145.3 388.2 1144.7 390.9 1144.0 393.7C1143.3 396.5 1142.7 399.3 1142.0 402.1C1141.3 404.9 1140.7 407.7 1140.0 410.5C1139.3 413.3 1138.7 416.2 1138.0 419.0C1137.3 421.8 1136.7 424.6 1136.0 427.4C1135.3 430.2 1134.7 433.1 1134.0 435.8C1133.3 438.5 1132.7 441.2 1132.0 443.8C1131.3 446.5 1130.7 449.2 1130.0 451.8C1129.3 454.5 1128.7 457.2 1128.0 459.9C1127.3 462.5 1126.7 465.2 1126.0 467.9C1125.3 470.6 1124.7 473.2 1124.0 475.9C1123.3 478.6 1122.7 481.3 1122.0 483.9C1121.3 486.5 1120.7 489.0 1120.0 491.5C1119.3 494.1 1118.7 496.6 1118.0 499.2C1117.3 501.7 1116.7 504.2 1116.0 506.8C1115.3 509.3 1114.7 511.9 1114.0 514.4C1113.3 516.9 1112.7 519.5 1112.0 522.0C1111.3 524.5 1110.7 527.2 1110.0 529.6C1109.3 532.1 1108.7 534.4 1108.0 536.9C1107.3 539.3 1106.7 541.7 1106.0 544.1C1105.3 546.5 1104.7 548.9 1104.0 551.3C1103.3 553.7 1102.7 556.1 1102.0 558.5C1101.3 560.9 1100.7 563.3 1100.0 565.8C1099.3 568.2 1098.7 570.6 1098.0 573.0C1097.3 575.3 1096.7 577.5 1096.0 579.8C1095.3 582.1 1094.7 584.4 1094.0 586.6C1093.3 588.9 1092.7 591.2 1092.0 593.5C1091.3 595.8 1090.7 598.0 1090.0 600.3C1089.3 602.6 1088.8 604.3 1088.0 607.2C1087.2 610.0 1086.0 613.9 1085.0 617.2C1084.0 620.5 1083.0 623.7 1082.0 626.9C1081.0 630.1 1080.0 633.4 1079.0 636.6C1078.0 639.8 1077.0 643.1 1076.0 646.3C1075.0 649.5 1074.0 652.7 1073.0 655.8C1072.0 658.9 1071.0 661.9 1070.0 664.9C1069.0 667.9 1068.0 671.0 1067.0 674.0C1066.0 677.1 1065.0 680.1 1064.0 683.2C1063.0 686.2 1062.0 689.2 1061.0 692.1C1060.0 695.0 1059.0 697.8 1058.0 700.7C1057.0 703.6 1056.0 706.4 1055.0 709.3C1054.0 712.2 1053.0 715.0 1052.0 717.9C1051.0 720.7 1050.0 723.5 1049.0 726.3C1048.0 729.0 1047.0 731.7 1046.0 734.4C1045.0 737.1 1044.0 739.7 1043.0 742.4C1042.0 745.1 1041.0 747.8 1040.0 750.5C1039.0 753.2 1038.0 755.8 1037.0 758.4C1036.0 761.0 1035.0 763.4 1034.0 766.0C1033.0 768.5 1032.0 771.0 1031.0 773.5C1030.0 776.1 1029.0 778.6 1028.0 781.1C1027.0 783.6 1026.0 786.1 1025.0 788.5C1024.0 790.9 1023.0 793.2 1022.0 795.6C1021.0 798.0 1020.0 800.3 1019.0 802.7C1018.0 805.0 1017.0 807.4 1016.0 809.8C1015.0 812.1 1014.0 814.4 1013.0 816.7C1012.0 819.0 1011.0 821.1 1010.0 823.3C1009.0 825.5 1008.0 827.7 1007.0 830.0C1006.0 832.2 1005.0 834.4 1004.0 836.6C1003.0 838.8 1002.2 840.6 1001.0 843.1C999.8 845.5 998.3 848.6 997.0 851.3C995.7 854.1 994.3 856.8 993.0 859.6C991.7 862.3 990.3 865.1 989.0 867.7C987.7 870.3 986.3 872.8 985.0 875.4C983.7 878.0 982.3 880.6 981.0 883.1C979.7 885.6 978.3 888.2 977.0 890.7C975.7 893.1 974.3 895.5 973.0 897.9C971.7 900.3 970.3 902.7 969.0 905.0C967.7 907.4 966.3 909.8 965.0 912.1C963.7 914.4 962.3 916.6 961.0 918.8C959.7 921.1 958.3 923.3 957.0 925.5C955.7 927.7 954.3 930.0 953.0 932.1C951.7 934.3 950.3 936.3 949.0 938.4C947.7 940.5 946.3 942.6 945.0 944.6C943.7 946.7 942.3 948.8 941.0 950.8C939.7 952.8 938.3 954.7 937.0 956.6C935.7 958.6 934.5 960.3 933.0 962.5C931.5 964.6 929.7 967.2 928.0 969.6C926.3 971.9 924.7 974.1 923.0 976.4C921.3 978.6 919.7 981.0 918.0 983.2C916.3 985.4 914.7 987.4 913.0 989.6C911.3 991.7 909.7 993.9 908.0 996.0C906.3 998.0 904.7 1000.1 903.0 1002.1C901.3 1004.1 899.7 1006.1 898.0 1008.1C896.3 1010.0 894.7 1012.1 893.0 1014.0C891.3 1015.9 889.7 1017.7 888.0 1019.6C886.3 1021.5 884.7 1023.4 883.0 1025.2C881.3 1027.0 879.7 1028.8 878.0 1030.6C876.3 1032.3 874.7 1034.1 873.0 1035.8C871.3 1037.6 869.7 1039.3 868.0 1041.0C866.3 1042.7 864.7 1044.3 863.0 1046.0C861.3 1047.7 859.8 1049.2 858.0 1051.0C856.2 1052.8 854.0 1054.8 852.0 1056.7C850.0 1058.5 848.0 1060.5 846.0 1062.3C844.0 1064.2 842.0 1065.9 840.0 1067.7C838.0 1069.5 836.0 1071.3 834.0 1073.1C832.0 1074.8 830.0 1076.4 828.0 1078.1C826.0 1079.8 824.0 1081.6 822.0 1083.2C820.0 1084.9 818.0 1086.4 816.0 1088.0C814.0 1089.6 812.0 1091.3 810.0 1092.9C808.0 1094.4 806.0 1095.9 804.0 1097.4C802.0 1098.9 800.0 1100.5 798.0 1102.0C796.0 1103.4 794.0 1104.8 792.0 1106.2C790.0 1107.7 788.0 1109.1 786.0 1110.5C784.0 1111.9 782.0 1113.2 780.0 1114.5C778.0 1115.8 776.0 1117.2 774.0 1118.5C772.0 1119.7 770.2 1120.8 768.0 1122.1C765.8 1123.4 763.3 1125.0 761.0 1126.3C758.7 1127.6 756.3 1128.8 754.0 1130.1C751.7 1131.3 749.3 1132.5 747.0 1133.6C744.7 1134.8 742.3 1135.9 740.0 1136.9C737.7 1137.9 735.3 1138.8 733.0 1139.7C730.7 1140.6 728.3 1141.6 726.0 1142.4C723.7 1143.1 721.3 1143.7 719.0 1144.3C716.7 1145.0 714.3 1145.6 712.0 1146.1C709.7 1146.6 707.3 1147.0 705.0 1147.4C702.7 1147.7 700.3 1147.9 698.0 1148.2C695.7 1148.4 693.3 1148.6 691.0 1148.7C688.7 1148.7 685.2 1148.5 684.0 1148.5"/>
<g class="ax">
<path d="M222.9 35.4 V1155.3"/>
<path d="M197.0 1153.0 H2033.1"/>
<path d="M222.9 1153.0 V1179.3"/>
<path d="M208.5 1041.5 H222.9"/>
<path d="M403.7 1153.0 V1167.0"/>
<path d="M197.0 929.9 H222.9"/>
<path d="M584.5 1153.0 V1179.3"/>
<path d="M208.5 818.4 H222.9"/>
<path d="M765.3 1153.0 V1167.0"/>
<path d="M197.0 706.9 H222.9"/>
<path d="M946.1 1153.0 V1179.3"/>
<path d="M208.5 595.4 H222.9"/>
<path d="M1126.8 1153.0 V1167.0"/>
<path d="M197.0 483.8 H222.9"/>
<path d="M1307.6 1153.0 V1179.3"/>
<path d="M208.5 372.3 H222.9"/>
<path d="M1488.4 1153.0 V1167.0"/>
<path d="M197.0 260.8 H222.9"/>
<path d="M1669.2 1153.0 V1179.3"/>
<path d="M208.5 149.2 H222.9"/>
<path d="M1850.0 1153.0 V1167.0"/>
<path d="M197.0 37.7 H222.9"/>
<path d="M2030.8 1153.0 V1179.3"/>
</g>
<text class="tk" transform="translate(151.33 1168.10) scale(0.9550 1)">0</text>
<text class="tk" transform="translate(208.47 1235.70) scale(0.9550 1)">0</text>
<text class="tk" transform="translate(94.39 945.04) scale(0.9550 1)">100</text>
<text class="tk" transform="translate(540.63 1235.70) scale(0.9550 1)">100</text>
<text class="tk" transform="translate(94.39 721.98) scale(0.9550 1)">200</text>
<text class="tk" transform="translate(902.87 1235.70) scale(0.9550 1)">200</text>
<text class="tk" transform="translate(94.39 498.92) scale(0.9550 1)">300</text>
<text class="tk" transform="translate(1264.76 1235.70) scale(0.9550 1)">300</text>
<text class="tk" transform="translate(94.39 275.86) scale(0.9550 1)">400</text>
<text class="tk" transform="translate(1626.73 1235.70) scale(0.9550 1)">400</text>
<text class="tk" transform="translate(94.39 52.80) scale(0.9550 1)">500</text>
<text class="tk" transform="translate(1987.87 1235.70) scale(0.9550 1)">500</text>
<text class="lb" transform="translate(853.86 1335.60) scale(0.9941 1)">Displacement (nm)</text>
<text class="lb" transform="translate(66.20 748.93) rotate(-90) scale(0.9914 1)">Load (µN)</text>
<g class="cv" style="stroke-width:5.8px">
<path stroke="#0000ff" d="M339.8 99.9H488.3"/>
<path stroke="#000000" d="M339.8 179.2H488.3"/>
<path stroke="#ff8000" d="M339.8 258.9H488.3"/>
</g>
<text class="lb" transform="translate(505.73 120.50) scale(0.9830 1)">Coating</text>
<text class="lb" transform="translate(505.72 200.60) scale(0.9849 1)">Cell wall</text>
<text class="lb" transform="translate(505.75 280.10) scale(0.9756 1)">CCML</text>
<text class="lb" transform="translate(1528.39 177.00) scale(0.9883 1)">Load holding</text>
<text class="lb" transform="translate(321.97 700.30) scale(0.9914 1)">Loading</text>
<text class="lb" transform="translate(1675.50 1036.80) scale(0.9902 1)">Unloading</text>
<text class="lb" transform="translate(1760.19 509.50) scale(0.9756 1)" font-style="italic">S=dP/dh</text>
<g class="th">
<path d="M1795.5 254L1651.5 763"/>
<path d="M1757.8 293.0L1803.3 295.8"/>
<path d="M1783.6 294V434.6"/>
<path d="M1727.5 434.6H1792.5"/>
</g>
<path d="M1710.1 184.0 L1710.4 226.6" stroke="#000" stroke-width="4.6" fill="none"/><path d="M1710.6 256.6 L1700.6 223.7 L1720.1 223.5 Z" fill="#000"/>
<path d="M560.0 686.5 L632.6 655.6" stroke="#000" stroke-width="4.6" fill="none"/><path d="M660.2 643.9 L633.6 665.8 L626.0 647.8 Z" fill="#000"/>
<path d="M1666.3 988.4 L1613.8 935.9" stroke="#000" stroke-width="4.6" fill="none"/><path d="M1592.6 914.7 L1622.8 931.1 L1609.0 944.9 Z" fill="#000"/>
</g>
</svg>
</body></html>
